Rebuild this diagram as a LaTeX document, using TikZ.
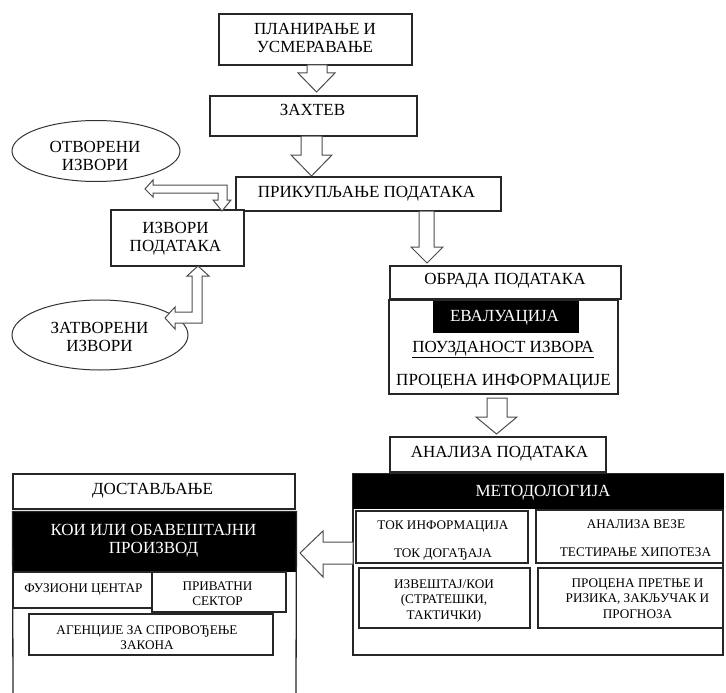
\documentclass[tikz,border=0pt]{standalone}
\usepackage{fontspec}
\setmainfont{Liberation Serif}
\usetikzlibrary{fit,shapes.geometric}
\tikzset{
  bx/.style={draw=black!85, line width=1.3pt, fill=white, inner sep=0pt},
  blk/.style={fill=black, draw=black, line width=1pt, inner sep=0pt},
  ell/.style={ellipse, draw=black!80, line width=1pt, inner sep=0pt},
  big/.style={font=\fontsize{17}{18}\selectfont, inner sep=0pt, align=center, anchor=base},
  sml/.style={font=\fontsize{13.2}{15.5}\selectfont, inner sep=0pt, align=center, anchor=base},
  smlt/.style={font=\fontsize{13.2}{14.5}\selectfont, inner sep=0pt, align=center, anchor=base},
  wt/.style={text=white},
  barrow/.style={draw=black!70, line width=1pt, fill=white, line join=miter},
}
\begin{document}
\begin{tikzpicture}[x=1pt,y=-1pt]
\useasboundingbox (0,0) rectangle (726,693);

% ---- top flow boxes
\node[bx, fit={(219,14) (412,65)}] (plan) {};
\node[bx, fit={(210,96) (417,136)}] (zahtev) {};
\node[bx, fit={(236,177) (501,211)}] (prik) {};
\node[bx, fit={(111,210) (244,266)}] (izv) {};
\node[ell, minimum width=168pt, minimum height=61pt] (otv) at (96,151) {};
\node[ell, minimum width=176pt, minimum height=70pt] (zatv) at (100,335) {};

\node[bx, fit={(390,266) (621,299)}] (obrada) {};
\node[bx, fit={(389,300) (618,394)}] (eval) {};
\node[blk, fit={(433,301) (578,332)}] (evalh) {};
\node[bx, fit={(390,437) (606,472)}] (analiza) {};

% ---- methodology block
\node[bx, fit={(353,474) (723,655)}] (metod) {};
\node[blk, fit={(353,474) (723,508)}] (metodh) {};
\node[bx, fit={(356,511) (528,563)}] (tok) {};
\node[bx, fit={(536,510) (723,563)}] (veza) {};
\node[bx, fit={(359,568) (530,628)}] (izvest) {};
\node[bx, fit={(538,568) (723,628)}] (pretnja) {};

% ---- delivery block
\node[bx, fit={(13,474) (295,509)}] (dost) {};
\coordinate (koiBL) at (13,693);
\coordinate (koiBR) at (296,693);
\node[blk, fit={(13,512) (296,571)}] (koih) {};
\draw[draw=black!85, line width=1.3pt] (koiBL) -- (koih.north west) -- (koih.north east) -- (koiBR);
\node[bx, fit={(13,572) (152,608)}] (fuz) {};
\node[bx, fit={(152,572) (286,612)}] (priv) {};
\node[bx, fit={(29,614) (273,655)}] (agen) {};

% ---- texts (base anchor = baseline of the last line)
\node[big] (t-plan) at (315,53) {ПЛАНИРАЊЕ И\\УСМЕРАВАЊЕ};
\node[big] (t-zahtev) at (312.5,115) {ЗАХТЕВ};
\node[big] (t-prik) at (366.5,197) {ПРИКУПЉАЊЕ ПОДАТАКА};
\node[big] (t-otv) at (95,170) {ОТВОРЕНИ\\ИЗВОРИ};
\node[big] (t-izv) at (175.5,251) {ИЗВОРИ\\ПОДАТАКА};
\node[big] (t-zatv) at (99.5,351) {ЗАТВОРЕНИ\\ИЗВОРИ};
\node[big] (t-obrada) at (505,284) {ОБРАДА ПОДАТАКА};
\node[big, wt] (t-eval) at (504.5,321) {ЕВАЛУАЦИЈА};
\node[big] (t-pouz) at (503,352) {\underline{ПОУЗДАНОСТ ИЗВОРА}};
\node[big] (t-proc) at (503.5,385) {ПРОЦЕНА ИНФОРМАЦИЈЕ};
\node[big] (t-anal) at (499.5,457) {АНАЛИЗА ПОДАТАКА};
\node[big, wt] (t-metod) at (543,496) {МЕТОДОЛОГИЈА};
\node[sml] (t-tok1) at (443,529) {ТОК ИНФОРМАЦИЈА};
\node[sml] (t-tok2) at (443,557) {ТОК ДОГАЂАЈА};
\node[sml] (t-veza1) at (636,528) {АНАЛИЗА ВЕЗЕ};
\node[sml] (t-veza2) at (635.5,556) {ТЕСТИРАЊЕ ХИПОТЕЗА};
\node[sml] (t-izvest) at (444,619) {ИЗВЕШТАЈ/КОИ\\(СТРАТЕШКИ,\\ТАКТИЧКИ)};
\node[sml] (t-pretnja) at (637.5,618) {ПРОЦЕНА ПРЕТЊЕ И\\РИЗИКА, ЗАКЉУЧАК И\\ПРОГНОЗА};
\node[big] (t-dost) at (152.5,494) {ДОСТАВЉАЊЕ};
\node[big, wt] (t-koi) at (153.5,553) {КОИ ИЛИ ОБАВЕШТАЈНИ\\ПРОИЗВОД};
\node[sml] (t-fuz) at (83.5,592) {ФУЗИОНИ ЦЕНТАР};
\node[smlt] (t-priv) at (217.5,605) {ПРИВАТНИ\\СЕКТОР};
\node[smlt] (t-agen) at (147,649) {АГЕНЦИЈЕ ЗА СПРОВОЂЕЊЕ\\ЗАКОНА};

% ---- block arrows
% plan -> zahtev
\draw[barrow] (307,65) -- (327,65) -- (327,73) -- (335,73) -- (316.5,92) -- (298,73) -- (307,73) -- cycle;
% zahtev -> prik
\draw[barrow] (301,136) -- (322,136) -- (322,155) -- (332,155) -- (311.5,176) -- (291,155) -- (301,155) -- cycle;
% prik -> obrada
\draw[barrow] (419,211) -- (434,211) -- (434,247) -- (443,247) -- (427,263) -- (411,247) -- (419,247) -- cycle;
% eval -> analiza
\draw[barrow] (487,398) -- (507,398) -- (507,417) -- (517,417) -- (496.5,434) -- (476,417) -- (487,417) -- cycle;
% otv <-> izv (elbow, double headed)
\draw[barrow] (145,189) -- (153,180) -- (153,185) -- (227,185) -- (227,200) -- (231,200) -- (222,211) -- (213,200) -- (218,200) -- (218,193) -- (153,193) -- (153,197) -- cycle;
% izv <-> zatv (elbow, double headed)
\draw[barrow] (198,266) -- (209,276) -- (202,276) -- (202,323) -- (175,323) -- (175,329) -- (165,318) -- (175,307) -- (175,312) -- (192,312) -- (192,276) -- (187,276) -- cycle;
% metod -> koi
\draw[barrow] (300,553) -- (323,531) -- (323,542) -- (353,542) -- (353,564) -- (323,564) -- (323,577) -- cycle;
\end{tikzpicture}
\end{document}
